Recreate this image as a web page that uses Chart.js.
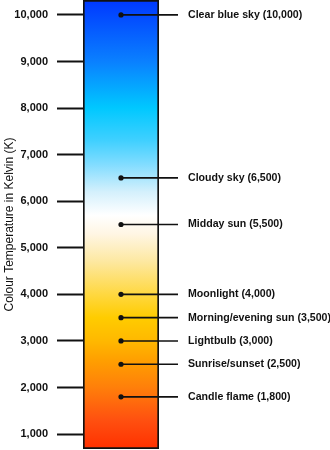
<!DOCTYPE html>
<html>
<head>
<meta charset="utf-8">
<script src="https://cdn.jsdelivr.net/npm/chart.js@4/dist/chart.umd.min.js"></script>
<style>
  html, body { margin: 0; padding: 0; background: #fff; }
  #chart { display: block; }
</style>
</head>
<body>
<canvas id="chart" width="330" height="450"></canvas>
<script>
// data
const sourceNames = ['Clear blue sky', 'Cloudy sky', 'Midday sun', 'Moonlight',
  'Morning/evening sun', 'Lightbulb', 'Sunrise/sunset', 'Candle flame'];
const sourceKelvin = [10000, 6500, 5500, 4000, 3500, 3000, 2500, 1800];
const tickValues = [1000, 2000, 3000, 4000, 5000, 6000, 7000, 8000, 9000, 10000];
const scaleRange = [680, 10320];

// colour ramp of the bar (kelvin -> colour)
const rampKelvin = [680, 1300, 2000, 2600, 3000, 3500, 4000, 4700, 5300, 5700, 6200, 6800, 7300, 8000, 9000, 10320];
const rampColors = ['#ff3000', '#ff5010', '#ff7f0a', '#ffa000', '#ffb800', '#ffcc00', '#ffd840', '#fde8a0',
  '#fff6e4', '#ffffff', '#d4f0fc', '#80dcff', '#40d0ff', '#00c8ff', '#0a80ff', '#0038ff'];

const fmt = v => v.toLocaleString('en-US');

const barGradient = (ctx) => {
  const chart = ctx.chart;
  const area = chart.chartArea;
  if (!area) return '#ccc';
  const y = chart.scales.y;
  const g = chart.ctx.createLinearGradient(0, area.bottom, 0, area.top);
  const p0 = y.getPixelForValue(scaleRange[0]);
  const p1 = y.getPixelForValue(scaleRange[1]);
  rampKelvin.forEach((k, i) => {
    const pos = (y.getPixelForValue(k) - p0) / (p1 - p0);
    g.addColorStop(Math.min(1, Math.max(0, pos)), rampColors[i]);
  });
  return g;
};

const leaderLabels = {
  id: 'leaderLabels',
  afterDatasetsDraw(chart) {
    const ctx = chart.ctx;
    const meta = chart.getDatasetMeta(0);
    ctx.save();
    ctx.strokeStyle = '#111';
    ctx.lineWidth = 1.6;
    ctx.fillStyle = '#111';
    ctx.font = 'bold 10.6px "Liberation Sans", Arial, sans-serif';
    ctx.textBaseline = 'middle';
    meta.data.forEach((pt, i) => {
      ctx.beginPath();
      ctx.moveTo(pt.x, pt.y);
      ctx.lineTo(178, pt.y);
      ctx.stroke();
      ctx.fillText(sourceNames[i] + ' (' + fmt(sourceKelvin[i]) + ')', 188, pt.y);
    });
    ctx.restore();
  }
};

new Chart(document.getElementById('chart'), {
  type: 'bar',
  data: {
    labels: ['K'],
    datasets: [{
      type: 'line',
      order: 0,
      showLine: false,
      data: sourceKelvin.map(v => ({ x: 'K', y: v })),
      pointRadius: 2.6,
      pointBackgroundColor: '#111',
      pointBorderWidth: 0
    }, {
      type: 'bar',
      order: 1,
      data: [scaleRange],
      backgroundColor: barGradient,
      borderColor: '#111',
      borderWidth: 2,
      borderSkipped: false,
      barPercentage: 1,
      categoryPercentage: 1
    }]
  },
  plugins: [leaderLabels],
  options: {
    responsive: false,
    animation: false,
    layout: { autoPadding: false, padding: { top: 0, right: 171, bottom: 1, left: 0 } },
    plugins: { legend: { display: false }, tooltip: { enabled: false } },
    scales: {
      x: { display: false },
      y: {
        min: scaleRange[0],
        max: scaleRange[1],
        afterBuildTicks: s => { s.ticks = tickValues.map(v => ({ value: v })); },
        afterFit: s => {
          s.width = 83;
          s.paddingTop = 0;
          s.paddingBottom = 0;
        },
        border: { display: false },
        grid: {
          drawOnChartArea: false,
          drawTicks: true,
          tickLength: 26,
          tickColor: '#111',
          tickWidth: 2
        },
        ticks: {
          padding: 9,
          color: '#111',
          font: { family: '"Liberation Sans", Arial, sans-serif', size: 11, weight: 'bold' },
          callback: v => fmt(v)
        },
        title: {
          display: true,
          text: 'Colour Temperature in Kelvin (K)',
          color: '#111',
          padding: { top: 2, bottom: 0 },
          font: { family: '"Liberation Sans", Arial, sans-serif', size: 12 }
        }
      }
    }
  }
});
</script>
</body>
</html>
